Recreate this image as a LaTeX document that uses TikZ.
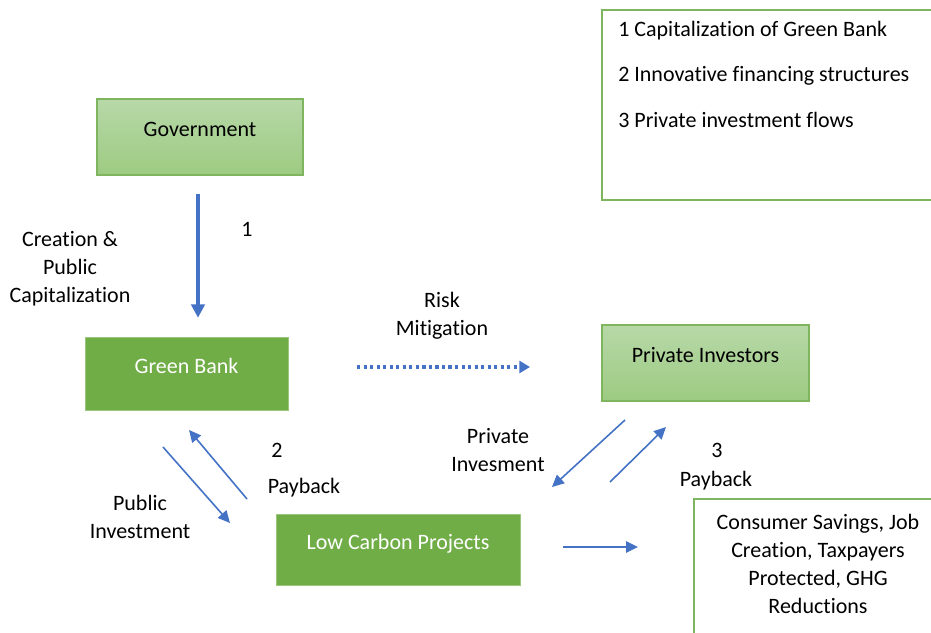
\documentclass[tikz,border=0pt]{standalone}
\usepackage{fontspec}
\setmainfont{Carlito}[Ligatures=NoCommon]
\usetikzlibrary{arrows.meta}
\definecolor{gdark}{HTML}{70AD47}
\definecolor{gtop}{HTML}{B7D8A8}
\definecolor{gbot}{HTML}{9DCB82}
\definecolor{gline}{HTML}{7EB55E}
\definecolor{ablue}{HTML}{4472C4}
\begin{document}
\begin{tikzpicture}[x=0.75pt,y=-0.75pt,
  font=\fontsize{16.5}{21}\selectfont,
  lightbox/.style={draw=gline, line width=0.8pt, top color=gtop, bottom color=gbot, inner sep=0pt},
  darkbox/.style={fill=gdark, draw=gdark!70!white, line width=0.4pt, text=white, inner sep=0pt},
  txt/.style={inner sep=0pt, align=center},
  thinarrow/.style={draw=ablue, line width=1.2pt, -{Triangle[length=9pt,width=8.5pt]}},
  thickarrow/.style={draw=ablue, line width=3pt, -{Triangle[length=10pt,width=10pt]}},
  dotarrow/.style={draw=ablue, line width=2.3pt, dash pattern=on 2.4pt off 2.5pt, -{Triangle[length=8pt,width=9pt]}},
  outline/.style={draw=gline, line width=1.2pt}
]
\useasboundingbox (0,0) rectangle (931,632);
\clip (0,0) rectangle (931,632);

% boxes
\node[lightbox, minimum width=154.5pt, minimum height=57pt] (gov) at (200,137) {\raisebox{12pt}{Government}};
\node[darkbox, minimum width=152.25pt, minimum height=54.75pt] (gb) at (186.5,373.5) {\raisebox{12pt}{Green Bank}};
\node[lightbox, minimum width=155.25pt, minimum height=57pt] (pi) at (705.5,363) {\raisebox{12pt}{Private Investors}};
\node[darkbox, minimum width=183pt, minimum height=53.25pt] (lcp) at (398,549.5) {\raisebox{12pt}{Low Carbon Projects}};

% legend box
\coordinate (lgA) at (602,10);
\coordinate (lgB) at (960,200);
\draw[outline] (lgA) rectangle (lgB);
\node[txt, anchor=west] (l1) at (618,31) {1 Capitalization of Green Bank};
\node[txt, anchor=west] (l2) at (618,76) {2 Innovative financing structures};
\node[txt, anchor=west] (l3) at (618,120) {3 Private investment flows};

% outcome box
\coordinate (ocA) at (694,499);
\coordinate (ocB) at (960,660);
\draw[outline] (ocA) rectangle (ocB);
\node[txt] (oc) at (818,564) {Consumer Savings, Job\\Creation, Taxpayers\\Protected, GHG\\Reductions};

% labels
\node[txt] (n1) at (247,229) {1};
\node[txt] (cpc) at (70,269) {Creation \&\\Public\\Capitalization};
\node[txt] (rm) at (442,316) {Risk\\Mitigation};
\node[txt] (n2) at (277,450) {2};
\node[txt] (pb1) at (304,488) {Payback};
\node[txt] (pubi) at (140,517) {Public\\Investment};
\node[txt] (pri) at (498,450) {Private\\Invesment};
\node[txt] (n3) at (717,450) {3};
\node[txt] (pb2) at (716,481) {Payback};

% arrows
\draw[thickarrow, shorten >=14.25pt] ([xshift=-1.5pt,yshift=-13.5pt]gov.south) -- ([xshift=-1.5pt]gov.south |- gb.north);
\coordinate (d1) at (357,367);
\coordinate (d2) at (530,367);
\draw[dotarrow] (d1) -- (d2);
\coordinate (a1) at (163,447);
\coordinate (a2) at (230,523);
\draw[thinarrow] (a1) -- (a2);
\coordinate (b1) at (247,499);
\coordinate (b2) at (189,430);
\draw[thinarrow] (b1) -- (b2);
\coordinate (c1) at (625,420);
\coordinate (c2) at (552,487);
\draw[thinarrow] (c1) -- (c2);
\coordinate (e1) at (610,482);
\coordinate (e2) at (666,427);
\draw[thinarrow] (e1) -- (e2);
\coordinate (f1) at (563,547);
\coordinate (f2) at (638,547);
\draw[thinarrow, line width=1.6pt] (f1) -- (f2);
\end{tikzpicture}
\end{document}
